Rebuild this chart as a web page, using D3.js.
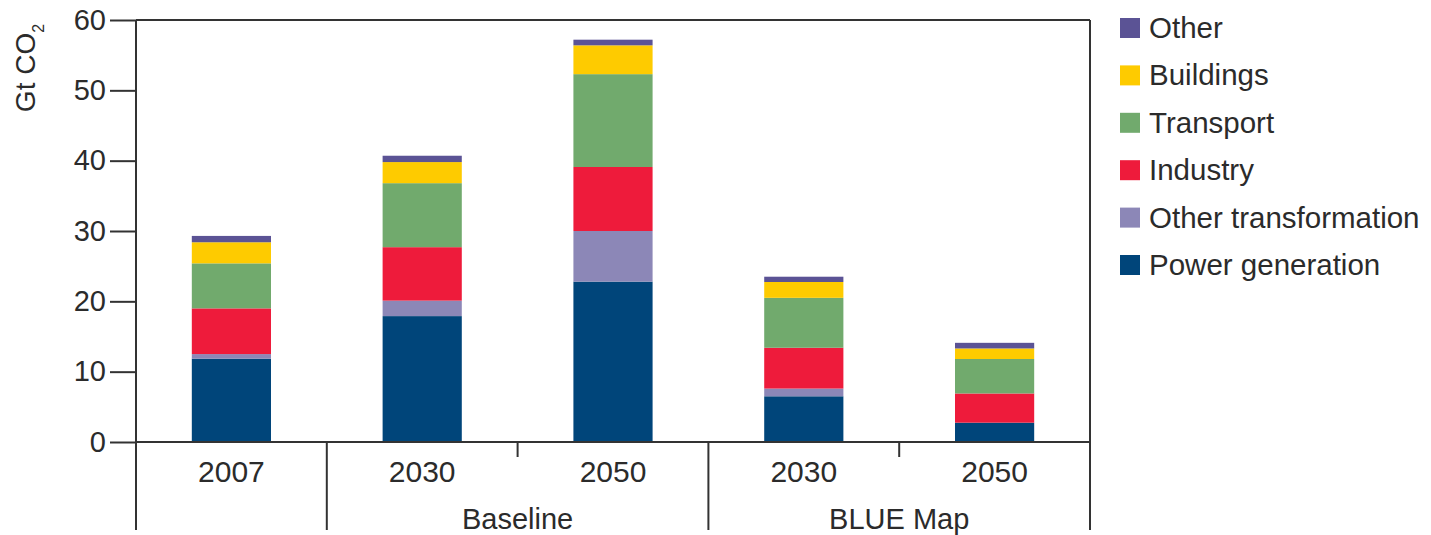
<!DOCTYPE html>
<html>
<head>
<meta charset="utf-8">
<script src="https://cdn.jsdelivr.net/npm/d3@7"></script>
<style>
  body { margin: 0; background: #fff; }
  text { font-family: "Liberation Sans", Arial, sans-serif; fill: #2b2b2b; }
</style>
</head>
<body>
<div id="chart"></div>
<script>
// Categories (bars) and their scenario groups
var years = ["2007", "2030", "2050", "2030", "2050"];
var groups = ["", "Baseline", "Baseline", "BLUE Map", "BLUE Map"];

// Series values, Gt CO2 (bottom to top)
var powerGeneration = [11.85, 17.9, 22.8, 6.5, 2.75];
var otherTransformation = [0.65, 2.2, 7.2, 1.1, 0];
var industry = [6.5, 7.6, 9.1, 5.8, 4.15];
var transport = [6.4, 9.1, 13.2, 7.1, 4.9];
var buildings = [3.0, 3.0, 4.1, 2.25, 1.5];
var other = [0.9, 0.9, 0.8, 0.75, 0.8];

var seriesNames = ["Power generation", "Other transformation", "Industry", "Transport", "Buildings", "Other"];
var seriesColors = ["#00457a", "#8c87b7", "#ee1b3b", "#71aa6d", "#fecb00", "#5b5395"];
var yTicks = [0, 10, 20, 30, 40, 50, 60];

var svgWidth = 1431;
var svgHeight = 535;
var margin = { top: 20, right: 341, bottom: 93, left: 136 };
var chartWidth = svgWidth - margin.left - margin.right;
var chartHeight = svgHeight - margin.top - margin.bottom;
var lineColor = "#333";

var svg = d3.select("#chart")
  .append("svg")
  .attr("width", svgWidth)
  .attr("height", svgHeight);

var chart = svg.append("g")
  .attr("transform", "translate(" + margin.left + "," + margin.top + ")");

// build rows for the stack
var rows = years.map(function(y, i) {
  return {
    idx: i,
    "Power generation": powerGeneration[i],
    "Other transformation": otherTransformation[i],
    "Industry": industry[i],
    "Transport": transport[i],
    "Buildings": buildings[i],
    "Other": other[i]
  };
});
var stacked = d3.stack().keys(seriesNames)(rows);

var x = d3.scaleBand()
  .domain(d3.range(years.length))
  .range([0, chartWidth])
  .paddingInner(0.585)
  .paddingOuter(0.2925);

var slot = d3.scaleBand()
  .domain(d3.range(years.length))
  .range([0, chartWidth]);

var y = d3.scaleLinear()
  .domain([0, 60])
  .range([chartHeight, 0]);

// bars
chart.selectAll(".series")
  .data(stacked)
  .enter()
  .append("g")
  .attr("class", "series")
  .attr("fill", function(d, i) { return seriesColors[i]; })
  .selectAll("rect")
  .data(function(d) { return d; })
  .enter()
  .append("rect")
  .attr("x", function(d) { return x(d.data.idx); })
  .attr("width", x.bandwidth())
  .attr("y", function(d) { return y(d[1]); })
  .attr("height", function(d) { return y(d[0]) - y(d[1]); });

// y axis
var yAxis = chart.append("g")
  .call(d3.axisLeft(y).tickValues(yTicks).tickSize(26).tickPadding(4));
yAxis.select(".domain").remove();
yAxis.selectAll(".tick line").attr("stroke", lineColor).attr("stroke-width", 2);
yAxis.selectAll(".tick text")
  .style("font-size", "29px")
  .attr("fill", "#2b2b2b")
  .attr("font-family", "Liberation Sans, Arial, sans-serif");

// frame: left axis, top line, right line, x axis
var frameBottom = svgHeight - margin.top - 5;
chart.append("line").attr("x1", 0).attr("x2", 0).attr("y1", 0).attr("y2", frameBottom)
  .attr("stroke", lineColor).attr("stroke-width", 2);
chart.append("line").attr("x1", chartWidth).attr("x2", chartWidth).attr("y1", 0).attr("y2", frameBottom)
  .attr("stroke", lineColor).attr("stroke-width", 2);
chart.append("line").attr("x1", 0).attr("x2", chartWidth).attr("y1", 0).attr("y2", 0)
  .attr("stroke", lineColor).attr("stroke-width", 2);
chart.append("line").attr("x1", 0).attr("x2", chartWidth).attr("y1", chartHeight).attr("y2", chartHeight)
  .attr("stroke", lineColor).attr("stroke-width", 2);

// category separators: long between groups, short inside a group
for (var i = 1; i < years.length; i++) {
  var sx = slot(i);
  var sameGroup = groups[i] === groups[i - 1] && groups[i] !== "";
  chart.append("line")
    .attr("x1", sx).attr("x2", sx)
    .attr("y1", chartHeight)
    .attr("y2", sameGroup ? chartHeight + 15 : frameBottom)
    .attr("stroke", lineColor).attr("stroke-width", 2);
}

// year labels
chart.selectAll(".year-label")
  .data(years)
  .enter()
  .append("text")
  .attr("class", "year-label")
  .attr("x", function(d, i) { return slot(i) + slot.bandwidth() / 2; })
  .attr("y", chartHeight + 40)
  .attr("text-anchor", "middle")
  .style("font-size", "30px")
  .text(function(d) { return d; });

// group labels
var groupNames = Array.from(new Set(groups.filter(function(g) { return g !== ""; })));
groupNames.forEach(function(g) {
  var idxs = d3.range(groups.length).filter(function(i) { return groups[i] === g; });
  var gx = (slot(idxs[0]) + slot(idxs[idxs.length - 1]) + slot.bandwidth()) / 2;
  chart.append("text")
    .attr("x", gx)
    .attr("y", chartHeight + 87)
    .attr("text-anchor", "middle")
    .style("font-size", "29px")
    .text(g);
});

// y axis title
var yTitle = svg.append("text")
  .attr("transform", "translate(35,68) rotate(-90)")
  .attr("text-anchor", "middle")
  .style("font-size", "28px");
yTitle.append("tspan").text("Gt CO");
yTitle.append("tspan").attr("dy", 9).style("font-size", "16px").text("2");

// legend (top to bottom: reverse stack order)
var legend = svg.append("g")
  .attr("transform", "translate(1120,18)");
var legendItems = legend.selectAll(".legend-item")
  .data(seriesNames.slice().reverse())
  .enter()
  .append("g")
  .attr("class", "legend-item")
  .attr("transform", function(d, i) { return "translate(0," + (i * 47.4) + ")"; });
legendItems.append("rect")
  .attr("width", 20)
  .attr("height", 20)
  .attr("fill", function(d) { return seriesColors[seriesNames.indexOf(d)]; });
legendItems.append("text")
  .attr("x", 29)
  .attr("y", 20)
  .style("font-size", "29.5px")
  .text(function(d) { return d; });
</script>
</body>
</html>
